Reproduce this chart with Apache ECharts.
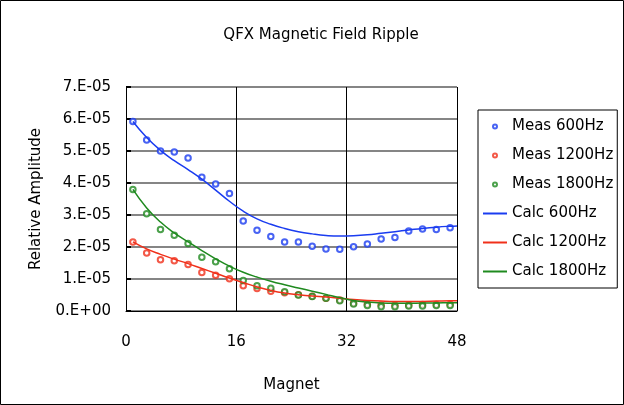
<!DOCTYPE html>
<html>
<head>
<meta charset="utf-8">
<script src="https://cdn.jsdelivr.net/npm/echarts@6/dist/echarts.min.js"></script>
<style>html,body{margin:0;padding:0;background:#fff}#c{width:624px;height:405px}</style>
</head>
<body>
<div id="c"></div>
<script>
// Magnet numbers for measured points
const measX = [1,3,5,7,9,11,13,15,17,19,21,23,25,27,29,31,33,35,37,39,41,43,45,47];
// Measured relative amplitude (units of 1e-5)
const meas600  = [5.92,5.34,5.00,4.97,4.78,4.18,3.97,3.67,2.81,2.52,2.33,2.16,2.16,2.02,1.94,1.93,2.01,2.09,2.25,2.30,2.50,2.56,2.55,2.60];
const meas1200 = [2.16,1.81,1.60,1.57,1.45,1.20,1.12,1.01,0.79,0.70,0.62,0.57,0.51,0.46,0.40,0.34,0.24,0.21,0.19,0.18,0.19,0.20,0.20,0.21];
const meas1800 = [3.80,3.04,2.55,2.37,2.11,1.68,1.54,1.32,0.95,0.79,0.71,0.60,0.50,0.45,0.40,0.32,0.22,0.17,0.13,0.13,0.16,0.16,0.17,0.17];
// Calculated curves (units of 1e-5)
const calcX = [1,3,5,7,9,11,13,15,17,19,21,23,25,27,29,31,33,35,37,39,41,43,45,47,48];
const calc600  = [5.92,5.42,5.02,4.70,4.42,4.12,3.78,3.43,3.12,2.88,2.71,2.58,2.48,2.41,2.36,2.34,2.35,2.38,2.43,2.48,2.53,2.58,2.62,2.65,2.66];
const calc1200 = [2.16,1.94,1.77,1.62,1.48,1.33,1.18,1.03,0.89,0.75,0.64,0.56,0.51,0.47,0.44,0.40,0.36,0.33,0.31,0.30,0.30,0.30,0.31,0.32,0.32];
const calc1800 = [3.80,3.22,2.78,2.44,2.16,1.89,1.63,1.40,1.21,1.06,0.93,0.82,0.72,0.62,0.52,0.42,0.33,0.28,0.25,0.24,0.24,0.25,0.25,0.26,0.26];
const xTicks = [0,16,32,48];
const scale = 1e-5;

const BLUE = '#1a3cf0', RED = '#f0301a', GREEN = '#1f8a1f';
const FONT = 'DejaVu Sans';
const FS = 15;

function pairs(xs, ys){ return xs.map((x,i)=>[x, ys[i]*scale]); }
function sci(v){
  if (Math.abs(v) < 1e-12) return '0.E+00';
  let e = Math.floor(Math.log10(Math.abs(v)) + 1e-9);
  let m = Math.round(v / Math.pow(10, e));
  if (m >= 10) { m = m/10; e += 1; }
  const s = e < 0 ? '-' : '+';
  const a = Math.abs(e);
  return m + '.E' + s + (a < 10 ? '0' + a : a);
}

const chart = echarts.init(document.getElementById('c'), null, {renderer:'canvas'});
const scatterBase = {type:'scatter', symbol:'emptyCircle', symbolSize:5.5};
const lineBase = {type:'line', smooth:0.5, symbol:'none', showSymbol:false};

chart.setOption({
  animation:false,
  backgroundColor:'#fff',
  textStyle:{fontFamily:FONT},
  title:{text:'QFX Magnetic Field Ripple', left:316, top:23, textAlign:'center',
    textStyle:{fontFamily:FONT, fontSize:FS, fontWeight:'normal', color:'#000'}},
  graphic:[{type:'rect', shape:{x:0.5,y:0.5,width:623,height:404}, style:{fill:null, stroke:'#000', lineWidth:1}, silent:true}],
  grid:{left:126, top:87, right:167, bottom:94},
  legend:{orient:'vertical', left:478, top:110, itemWidth:24, itemHeight:4, itemGap:14,
    padding:[9,4,9,4], borderColor:'#000', borderWidth:1,
    textStyle:{fontFamily:FONT, fontSize:FS, color:'#000'},
    data:[
      {name:'Meas 600Hz', itemStyle:{borderWidth:1}},
      {name:'Meas 1200Hz', itemStyle:{borderWidth:1}},
      {name:'Meas 1800Hz', itemStyle:{borderWidth:1}},
      {name:'Calc 600Hz', itemStyle:{opacity:0}},
      {name:'Calc 1200Hz', itemStyle:{opacity:0}},
      {name:'Calc 1800Hz', itemStyle:{opacity:0}}
    ]},
  xAxis:{type:'value', min:xTicks[0], max:xTicks[xTicks.length-1], interval:16,
    name:'Magnet', nameLocation:'middle', nameGap:67,
    nameTextStyle:{fontFamily:FONT, fontSize:FS, color:'#000'},
    axisLine:{show:true, lineStyle:{color:'#000', width:1}},
    axisTick:{show:false},
    axisLabel:{margin:24, fontFamily:FONT, fontSize:FS, color:'#000'},
    splitLine:{show:true, lineStyle:{color:'#000', width:1}}},
  yAxis:{type:'value', min:0, max:7e-5, interval:1e-5,
    name:'Relative Amplitude', nameLocation:'middle', nameGap:82,
    nameTextStyle:{fontFamily:FONT, fontSize:FS, color:'#000'},
    axisLine:{show:true, lineStyle:{color:'#000', width:1}},
    axisTick:{show:true, inside:true, length:5, lineStyle:{color:'#000', width:2}},
    axisLabel:{margin:15, formatter:sci, fontFamily:FONT, fontSize:FS, color:'#000'},
    splitLine:{show:true, lineStyle:{color:'#858585', width:2}}},
  series:[
    Object.assign({name:'Meas 600Hz', data:pairs(measX, meas600), itemStyle:{color:BLUE, borderWidth:1.2}}, scatterBase),
    Object.assign({name:'Meas 1200Hz', data:pairs(measX, meas1200), itemStyle:{color:RED, borderWidth:1.2}}, scatterBase),
    Object.assign({name:'Meas 1800Hz', data:pairs(measX, meas1800), itemStyle:{color:GREEN, borderWidth:1.2}}, scatterBase),
    Object.assign({name:'Calc 600Hz', data:pairs(calcX, calc600), itemStyle:{color:BLUE}, lineStyle:{color:BLUE, width:1.5}}, lineBase),
    Object.assign({name:'Calc 1200Hz', data:pairs(calcX, calc1200), itemStyle:{color:RED}, lineStyle:{color:RED, width:1.5}}, lineBase),
    Object.assign({name:'Calc 1800Hz', data:pairs(calcX, calc1800), itemStyle:{color:GREEN}, lineStyle:{color:GREEN, width:1.5}}, lineBase)
  ]
});
</script>
</body>
</html>
